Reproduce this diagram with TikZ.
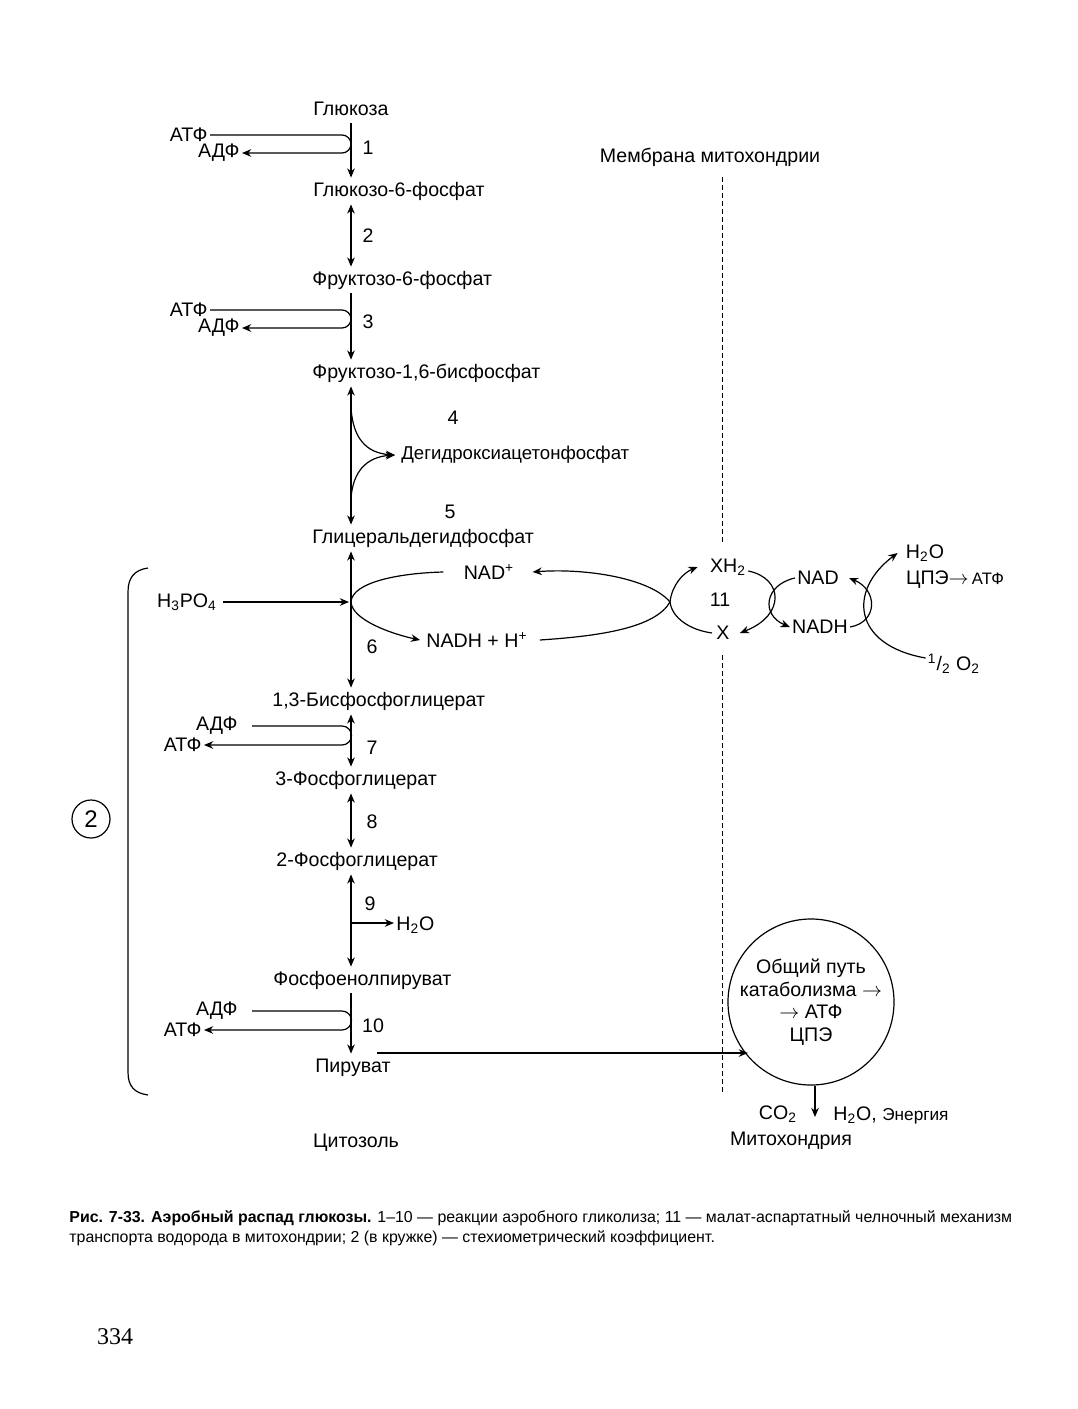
\documentclass[tikz,border=0pt]{standalone}
\usepackage{fontspec}
\setmainfont{Liberation Sans}
\newfontfamily\pagefont{Liberation Serif}
\usetikzlibrary{arrows.meta,positioning}

\begin{document}
\begin{tikzpicture}[
  x=0.5pt, y=-0.5pt,
  font=\fontsize{9.8}{11}\selectfont,
  met/.style  ={anchor=west, inner sep=2pt, text height=7pt, text depth=2pt},
  lbl/.style  ={inner sep=1pt},
  num/.style  ={inner sep=1pt},
  arr/.style  ={-{Stealth[length=4.6pt,width=3.8pt]}, line width=0.6pt},
  darr/.style ={{Stealth[length=4.6pt,width=3.8pt]}-{Stealth[length=4.6pt,width=3.8pt]}, line width=0.6pt},
  ln/.style   ={line width=0.6pt},
  membr/.style={line width=0.5pt, dash pattern=on 2.5pt off 1.5pt}
]

\useasboundingbox (0,0) rectangle (1077,1409);
\coordinate (ax) at (351,0);

% glycolysis chain
\node[met] (glc)   at (309,110)  {Глюкоза};
\node[met] (g6p)   at (309,191)  {Глюкозо-6-фосфат};
\node[met] (f6p)   at (308,280)  {Фруктозо-6-фосфат};
\node[met] (f16bp) at (308,373)  {Фруктозо-1,6-бисфосфат};
\node[met] (gap)   at (308,538)  {Глицеральдегидфосфат};
\node[met] (bpg)   at (268,701)  {1,3-Бисфосфоглицерат};
\node[met] (pg3)   at (271,780)  {3-Фосфоглицерат};
\node[met] (pg2)   at (272,861)  {2-Фосфоглицерат};
\node[met] (pep)   at (269,980)  {Фосфоенолпируват};
\node[met] (pyr)   at (311,1067) {Пируват};

\draw[arr]  (glc.south -| ax)   -- (g6p.north -| ax);
\draw[darr] (g6p.south -| ax)   -- (f6p.north -| ax);
\draw[arr]  (f6p.south -| ax)   -- (f16bp.north -| ax);
\draw[darr] (f16bp.south -| ax) -- (gap.north -| ax);
\draw[darr] (gap.south -| ax)   -- (bpg.north -| ax);
\draw[darr] (bpg.south -| ax)   -- (pg3.north -| ax);
\draw[darr] (pg3.south -| ax)   -- (pg2.north -| ax);
\draw[darr] (pg2.south -| ax)   -- (pep.north -| ax);
\draw[arr]  (pep.south -| ax)   -- (pyr.north -| ax);

% step numbers
\node[num] (n1)  at (368,148)  {1};
\node[num] (n2)  at (368,236)  {2};
\node[num] (n3)  at (368,322)  {3};
\node[num] (n4)  at (453,418)  {4};
\node[num] (n5)  at (450,512)  {5};
\node[num] (n6)  at (372,647)  {6};
\node[num] (n7)  at (372,748)  {7};
\node[num] (n8)  at (372,822)  {8};
\node[num] (n9)  at (370,904)  {9};
\node[num] (n10) at (373,1026) {10};

% ATP / ADP loops
\node[lbl, anchor=east] (atp1) at (210,135)  {АТФ};
\node[lbl, anchor=east] (adp1) at (242,153)  {АДФ};
\draw[arr] (atp1.east) -- (342,135) arc[start angle=90, end angle=-90, radius=4.5pt] -- (adp1.east);

\node[lbl, anchor=east] (atp3) at (210,310)  {АТФ};
\node[lbl, anchor=east] (adp3) at (242,328)  {АДФ};
\draw[arr] (atp3.east) -- (342,310) arc[start angle=90, end angle=-90, radius=4.5pt] -- (adp3.east);

\node[lbl, anchor=east] (adp7) at (240,726)  {АДФ};
\node[lbl, anchor=east] (atp7) at (204,745)  {АТФ};
\draw[arr] ([xshift=6pt]adp7.east) -- (342,726) arc[start angle=90, end angle=-90, radius=4.75pt] -- (atp7.east);

\node[lbl, anchor=east] (adp10) at (240,1011) {АДФ};
\node[lbl, anchor=east] (atp10) at (204,1030) {АТФ};
\draw[arr] ([xshift=6pt]adp10.east) -- (342,1011) arc[start angle=90, end angle=-90, radius=4.75pt] -- (atp10.east);

% dihydroxyacetone phosphate
\node[lbl, anchor=west, font=\fontsize{9.3}{11}\selectfont] (dhap) at (399,455) {Дегидроксиацетонфосфат};
\coordinate (b4) at (351,408);
\coordinate (b5) at (351,498);
\draw[arr] (b4) .. controls (353,438) and (366,453) .. ([xshift=-2pt]dhap.west);
\draw[arr] (b5) .. controls (353,472) and (366,457) .. ([xshift=-2pt]dhap.west);

% step 6 and NAD cycle
\node[lbl] (h3po4) at (187,602) {H\textsubscript{3}PO\textsubscript{4}};
\draw[arr] ([xshift=2pt]h3po4.east) -- ([xshift=-1pt]h3po4.east -| ax);

\coordinate (oL) at (351,602);
\coordinate (oR) at (670,602);
\node[lbl] (nadp) at (489,572) {NAD\textsuperscript{+}};
\node[lbl] (nadh) at (477,640) {NADH + H\textsuperscript{+}};
\draw[ln]  (oL) .. controls (352,582) and (400,573) .. ([xshift=-9pt]nadp.west);
\draw[arr] (oR) .. controls (650,578) and (585,568) .. ([xshift=8pt]nadp.east);
\draw[arr] (oL) .. controls (352,620) and (392,634) .. ([xshift=-2pt]nadh.west);
\draw[ln]  ([xshift=5pt]nadh.east) .. controls (600,636) and (655,628) .. (oR);

% malate-aspartate shuttle
\node[lbl] (xh2) at (728,567) {XH\textsubscript{2}};
\node[num] (n11) at (720,600) {11};
\node[lbl] (xx)  at (723,633) {X};
\draw[arr] (oR) .. controls (672,585) and (683,573) .. ([xshift=-5pt]xh2.west);
\draw[ln]  (oR) .. controls (672,618) and (690,630) .. ([xshift=-1pt]xx.west);

\node[lbl] (nad)   at (818,578) {NAD};
\node[lbl] (nadh2) at (820,627) {NADH};
\draw[arr] ([yshift=-2pt]xh2.east) .. controls (783,578) and (786,615) .. ([xshift=4pt]xx.east);
\draw[arr] (nad.west) .. controls (764,585) and (761,615) .. (nadh2.west);
\draw[arr] (nadh2.east) .. controls (878,622) and (878,590) .. ([xshift=4pt]nad.east);

\node[lbl] (h2o) at (925,553) {H\textsubscript{2}O};
\node[lbl] (cpe) at (955,580) {ЦПЭ$\rightarrow$\,{\fontsize{8.3}{10}\selectfont АТФ}};
\node[lbl] (o2)  at (954,664) {\textsuperscript{1}/\textsubscript{2} O\textsubscript{2}};
\draw[arr] ([yshift=3pt]o2.west) .. controls (852,645) and (848,590) .. ([xshift=-3pt]h2o.west);

% membrane
\node[lbl] (memb) at (710,157) {Мембрана митохондрии};
\draw[membr] (722,177) -- (722,542);
\draw[membr] (722,655) -- (722,1095);

% step 9 water
\node[lbl, anchor=west] (h2o9) at (394,925) {H\textsubscript{2}O};
\coordinate (b9) at (351,923);
\draw[arr] (b9) -- (b9 -| h2o9.west);

% stoichiometric bracket
\draw[ln] (148,568) .. controls (134,570) and (128,578) .. (128,592)
          -- (128,1072) .. controls (128,1086) and (134,1093) .. (148,1095);
\node[draw, circle, line width=0.6pt, minimum size=19pt, inner sep=0pt,
      font=\fontsize{12}{14}\selectfont] (coef) at (91,819) {2};

% common catabolic pathway
\node[draw, circle, line width=0.6pt, minimum size=78pt, inner sep=0pt, align=center,
      font=\fontsize{9.8}{11.3}\selectfont] (cat) at (811,1002)
      {Общий путь\\катаболизма $\rightarrow$\\$\rightarrow$ АТФ\\ЦПЭ};
\coordinate (pyrl) at (377,1053);
\draw[arr] (pyrl) -- (pyrl -| cat.221);
\coordinate (catb) at (815,1117);
\draw[arr] (cat.south -| catb) -- (catb);
\node[lbl] (co2) at (778,1114) {CO\textsubscript{2}};
\node[lbl, anchor=west] (h2oen) at (831,1115)
      {H\textsubscript{2}O, {\fontsize{8.6}{10}\selectfont Энергия}};
\node[lbl] (mito) at (791,1141) {Митохондрия};
\node[lbl] (cyto) at (356,1143) {Цитозоль};

% caption and page number
\node[anchor=north west, inner sep=0pt, align=left, font=\fontsize{7.95}{10}\selectfont] (capt) at (69,1210)
      {{\bfseries Рис. 7-33. Аэробный распад глюкозы.} 1–10 — реакции аэробного гликолиза; 11 — малат-аспартатный челночный механизм\\
       транспорта водорода в митохондрии; 2 (в кружке) — стехиометрический коэффициент.};
\node[font=\pagefont\fontsize{12}{14}\selectfont] (pnum) at (115,1337) {334};

\end{tikzpicture}
\end{document}
